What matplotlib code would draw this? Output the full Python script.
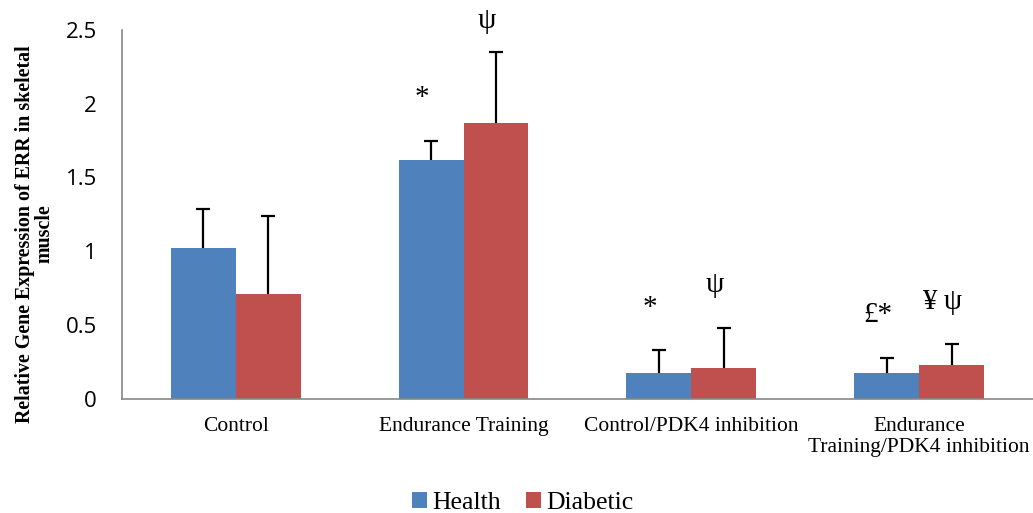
import numpy as np
import matplotlib.pyplot as plt

# values
groups = ['Control', 'Endurance Training', 'Control/PDK4 inhibition',
          'Endurance\nTraining/PDK4 inhibition']
health = [1.02, 1.62, 0.18, 0.18]
health_err = [0.27, 0.13, 0.15, 0.10]
diabetic = [0.71, 1.87, 0.21, 0.23]
diabetic_err = [0.53, 0.48, 0.27, 0.14]
# significance marks: (group index, series, text)
marks = [(1, 0, '*'), (1, 1, 'ψ'), (2, 0, '*'), (2, 1, 'ψ'),
         (3, 0, '£*'), (3, 1, '¥ ψ')]

blue = '#4f81bd'
red = '#c0504d'

fig = plt.figure(figsize=(10.33, 5.13), dpi=100)
ax = fig.add_axes([0.118, 0.222, 0.882, 0.72])

x = np.arange(len(groups))
w = 0.285
ekw = dict(ecolor='black', elinewidth=1.6, capthick=1.6)
b1 = ax.bar(x - w/2, health, w, color=blue, label='Health',
            yerr=[np.zeros(4), health_err], capsize=5, error_kw=ekw)
b2 = ax.bar(x + w/2, diabetic, w, color=red, label='Diabetic',
            yerr=[np.zeros(4), diabetic_err], capsize=5, error_kw=ekw)
# only the upper half of the error bar is shown, drop the lower caps
for b in (b1, b2):
    caps = b.errorbar.lines[1]
    caps[0].set_visible(False)

# marks sit a bit above the error bar tops (kept inside the figure)
for g, s, txt in marks:
    if s == 0:
        top = health[g] + health_err[g]
        xs = x[g] - w/2 - 0.04
    else:
        top = diabetic[g] + diabetic_err[g]
        xs = x[g] + w/2 - 0.04
    ys = min(top + 0.29, 2.56)
    ax.text(xs, ys, txt, ha='center', va='center', fontsize=21,
            family='Liberation Serif', clip_on=False)

ax.set_xlim(-0.5, 3.5)
ax.set_ylim(0, 2.5)
ax.set_yticks([0, 0.5, 1, 1.5, 2, 2.5])
ax.set_yticklabels(['0', '0.5', '1', '1.5', '2', '2.5'], fontsize=16,
                   family='Open Sans')
ax.set_xticks(x)
ax.set_xticklabels(groups, fontsize=15.5, family='Liberation Serif',
                   linespacing=1.15)
ax.tick_params(axis='x', length=0, pad=13)
ax.tick_params(axis='y', length=0, pad=18)

for side in ['top', 'right']:
    ax.spines[side].set_visible(False)
for side in ['left', 'bottom']:
    ax.spines[side].set_color('#888888')
    ax.spines[side].set_linewidth(1.2)

ax.set_ylabel('Relative Gene Expression of ERR in skeletal\nmuscle',
              fontsize=14.4, fontweight='bold', family='Liberation Serif',
              linespacing=1.0)
ax.yaxis.set_label_coords(-0.0735, 0.447)

ax.legend(loc='lower center', bbox_to_anchor=(0.44, -0.375), ncol=2,
          frameon=False, prop={'family': 'Liberation Serif', 'size': 18.5},
          handlelength=0.58, handleheight=0.58, handletextpad=0.2,
          columnspacing=1.0)

fig.savefig('out.png', dpi=100)
